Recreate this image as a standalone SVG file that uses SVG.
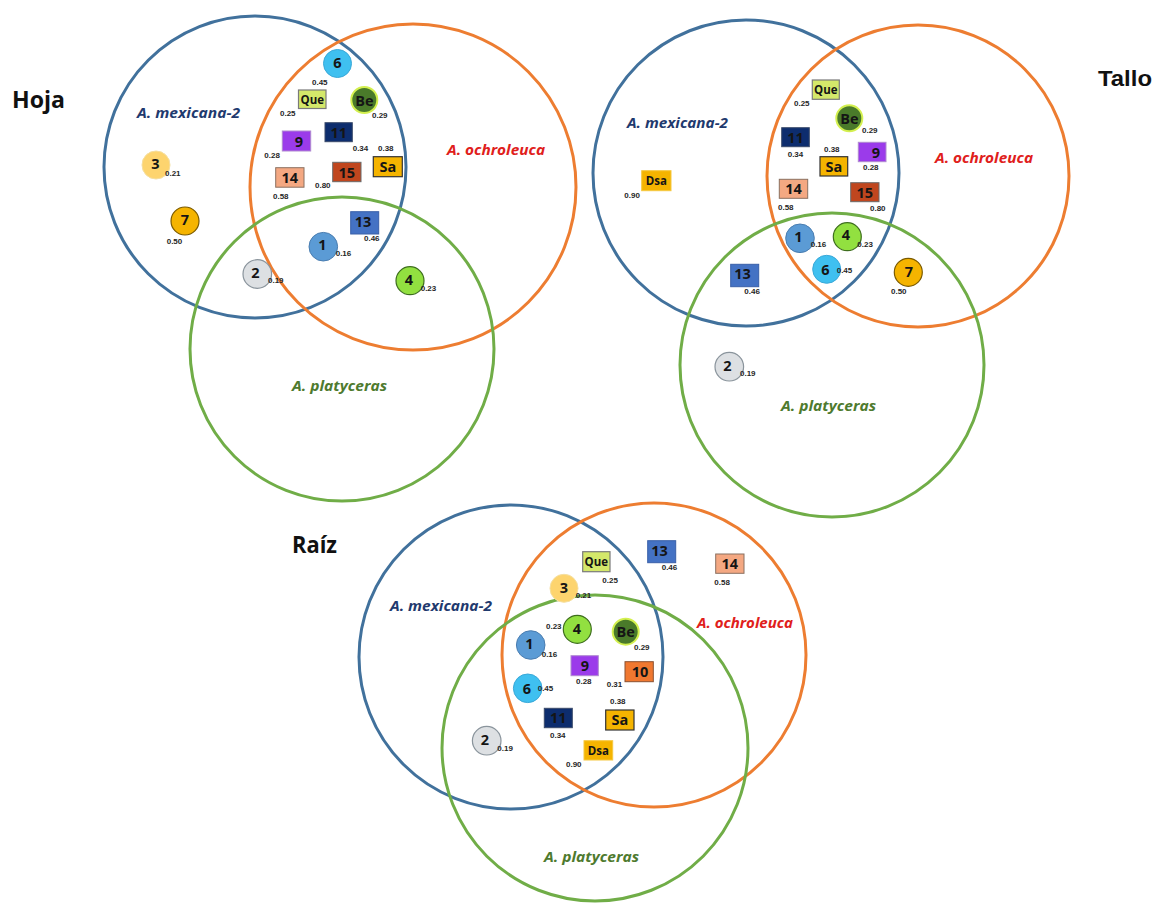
<svg xmlns="http://www.w3.org/2000/svg" width="1156" height="903" viewBox="0 0 1156 903">
<style>
.bg{fill:#fff}
.vm{fill:none;stroke:#41719C;stroke-width:3}
.vo{fill:none;stroke:#ED7D31;stroke-width:3}
.vg{fill:none;stroke:#70AD47;stroke-width:3}
.title{font-family:"Open Sans","Liberation Sans",sans-serif;font-weight:bold;font-size:24px;fill:#111}
.title2{font-family:"Liberation Sans",Arial,sans-serif;font-weight:bold;font-size:22px;fill:#111}
.sp{font-family:"Open Sans","Liberation Sans",sans-serif;font-weight:bold;font-style:italic;font-size:14.5px}
.sm{fill:#1F3A6E}
.so{fill:#E0201B}
.sg{fill:#4E7A2E}
.n{font-family:"Open Sans","Liberation Sans",sans-serif;font-weight:bold;font-size:14.5px;fill:#151515;text-anchor:middle;dominant-baseline:central}
.ns{font-size:11.5px}
.v{font-family:"Liberation Sans",Arial,sans-serif;font-weight:bold;font-size:8px;fill:#262626}
.c1{fill:#5B9BD5;stroke:#4A7DB0;stroke-width:1}
.c2{fill:#DDE0E3;stroke:#8A949C;stroke-width:1.2}
.c3{fill:#FDD46E;stroke:#F5DFA0;stroke-width:1}
.c4{fill:#92E040;stroke:#3E6E1E;stroke-width:1.2}
.c6{fill:#3FC0F0;stroke:#3AA8D8;stroke-width:1}
.c7{fill:#F5B400;stroke:#7A5A00;stroke-width:1.2}
.cbe{fill:#4A7A2A;stroke:#D4F050;stroke-width:2}
.rque{fill:#D4E86A;stroke:#7A7A7A;stroke-width:1.2}
.r11{fill:#0D2D6E;stroke:#3A4A6A;stroke-width:1}
.r9{fill:#9B3BEA;stroke:#B08AD0;stroke-width:1}
.rsa{fill:#F5B400;stroke:#333;stroke-width:1.2}
.r14{fill:#F4A882;stroke:#8A7060;stroke-width:1}
.r15{fill:#C0461E;stroke:#6A6A6A;stroke-width:1}
.r13{fill:#4472C4;stroke:#3A60A8;stroke-width:1}
.r10{fill:#F07830;stroke:#8A5030;stroke-width:1}
.rdsa{fill:#F5B400;stroke:#F5C840;stroke-width:1}
</style>
<rect class="bg" x="0" y="0" width="1156" height="903"/>

<g id="venn-circles">
<circle class="vm" cx="255" cy="167" r="151"/>
<circle class="vo" cx="413" cy="187" r="163"/>
<circle class="vg" cx="342" cy="349" r="152"/>
<circle class="vm" cx="746" cy="173" r="153"/>
<circle class="vo" cx="918" cy="176" r="151"/>
<circle class="vg" cx="832" cy="365" r="152"/>
<circle class="vm" cx="511" cy="657" r="152"/>
<circle class="vo" cx="654" cy="655" r="152"/>
<circle class="vg" cx="595" cy="748" r="153"/>
</g>

<g id="titles">
<text class="title" x="12" y="108" textLength="53" lengthAdjust="spacingAndGlyphs">Hoja</text>
<text class="title2" x="1098" y="86" textLength="54" lengthAdjust="spacingAndGlyphs">Tallo</text>
<text class="title" x="292" y="553" textLength="45" lengthAdjust="spacingAndGlyphs">Raíz</text>
</g>

<g id="set-labels">
<text class="sp sm" x="137" y="118" textLength="103" lengthAdjust="spacingAndGlyphs">A. mexicana-2</text>
<text class="sp so" x="447" y="155" textLength="98" lengthAdjust="spacingAndGlyphs">A. ochroleuca</text>
<text class="sp sg" x="292" y="391" textLength="95" lengthAdjust="spacingAndGlyphs">A. platyceras</text>
<text class="sp sm" x="627" y="128" textLength="101" lengthAdjust="spacingAndGlyphs">A. mexicana-2</text>
<text class="sp so" x="935" y="163" textLength="98" lengthAdjust="spacingAndGlyphs">A. ochroleuca</text>
<text class="sp sg" x="781" y="411" textLength="95" lengthAdjust="spacingAndGlyphs">A. platyceras</text>
<text class="sp sm" x="390" y="611" textLength="102" lengthAdjust="spacingAndGlyphs">A. mexicana-2</text>
<text class="sp so" x="697" y="628" textLength="96" lengthAdjust="spacingAndGlyphs">A. ochroleuca</text>
<text class="sp sg" x="544" y="862" textLength="95" lengthAdjust="spacingAndGlyphs">A. platyceras</text>
</g>

<g id="hoja">
<g id="h6"><circle class="c6" cx="337.5" cy="63.5" r="14"/><text class="n" x="337.5" y="62.5">6</text><text class="v" x="312" y="85">0.45</text></g>
<g id="hque"><rect class="rque" x="298.5" y="90" width="27.5" height="18.5"/><text class="n ns" x="312.3" y="99">Que</text><text class="v" x="280" y="116">0.25</text></g>
<g id="hbe"><circle class="cbe" cx="364.3" cy="100" r="13"/><text class="n" x="364.3" y="100">Be</text><text class="v" x="372" y="118">0.29</text></g>
<g id="h11"><rect class="r11" x="325" y="122.7" width="27.3" height="19"/><text class="n" x="338.7" y="132">11</text><text class="v" x="352.7" y="151">0.34</text></g>
<g id="h9"><rect class="r9" x="282.3" y="131" width="28.4" height="20"/><text class="n" x="299" y="141">9</text><text class="v" x="264.3" y="158">0.28</text></g>
<g id="hsa"><rect class="rsa" x="373.3" y="156.7" width="29" height="20"/><text class="n" x="387.8" y="166.5">Sa</text><text class="v" x="378" y="151">0.38</text></g>
<g id="h14"><rect class="r14" x="275.7" y="167.7" width="28.3" height="19.5"/><text class="n" x="289.8" y="177.3">14</text><text class="v" x="273" y="199">0.58</text></g>
<g id="h15"><rect class="r15" x="332.7" y="162.3" width="28.3" height="19.4"/><text class="n" x="346.8" y="172">15</text><text class="v" x="315" y="188">0.80</text></g>
<g id="h3"><circle class="c3" cx="156" cy="165" r="14"/><text class="n" x="155.5" y="163.5">3</text><text class="v" x="165" y="176">0.21</text></g>
<g id="h7"><circle class="c7" cx="185" cy="221" r="14"/><text class="n" x="185" y="219.5">7</text><text class="v" x="166.7" y="244">0.50</text></g>
<g id="h13"><rect class="r13" x="350.7" y="211.7" width="28" height="22.3"/><text class="n" x="363" y="221">13</text><text class="v" x="364" y="241">0.46</text></g>
<g id="h1"><circle class="c1" cx="323.3" cy="246.7" r="14.3"/><text class="n" x="322.5" y="244.5">1</text><text class="v" x="335.7" y="256">0.16</text></g>
<g id="h2"><circle class="c2" cx="257.3" cy="274" r="14.3"/><text class="n" x="255.5" y="272">2</text><text class="v" x="268" y="283">0.19</text></g>
<g id="h4"><circle class="c4" cx="410" cy="280.7" r="14"/><text class="n" x="409" y="279">4</text><text class="v" x="420.7" y="291">0.23</text></g>
</g>

<g id="tallo">
<g id="tque"><rect class="rque" x="812.3" y="80" width="27" height="19.3"/><text class="n ns" x="825.8" y="89.5">Que</text><text class="v" x="794" y="106">0.25</text></g>
<g id="tbe"><circle class="cbe" cx="849.3" cy="118.3" r="13"/><text class="n" x="849.3" y="118.3">Be</text><text class="v" x="862" y="133">0.29</text></g>
<g id="t11"><rect class="r11" x="781.7" y="127.7" width="27.6" height="19"/><text class="n" x="795.5" y="137">11</text><text class="v" x="787.7" y="157">0.34</text></g>
<g id="t9"><rect class="r9" x="858.3" y="142.3" width="27.7" height="19.4"/><text class="n" x="876" y="152">9</text><text class="v" x="863" y="170">0.28</text></g>
<g id="tsa"><rect class="rsa" x="820" y="156.7" width="27.7" height="19.3"/><text class="n" x="833.8" y="166.3">Sa</text><text class="v" x="824" y="152">0.38</text></g>
<g id="t14"><rect class="r14" x="779.3" y="179.3" width="28.4" height="19"/><text class="n" x="793.5" y="188.8">14</text><text class="v" x="778" y="210">0.58</text></g>
<g id="t15"><rect class="r15" x="850.7" y="182.7" width="28.3" height="19"/><text class="n" x="864.8" y="192.5">15</text><text class="v" x="870" y="211">0.80</text></g>
<g id="tdsa"><rect class="rdsa" x="641.7" y="170.7" width="29.3" height="20"/><text class="n ns" x="656.3" y="180.5">Dsa</text><text class="v" x="624.3" y="198">0.90</text></g>
<g id="t1"><circle class="c1" cx="800" cy="238.3" r="14.3"/><text class="n" x="798.5" y="236">1</text><text class="v" x="810.7" y="247">0.16</text></g>
<g id="t4"><circle class="c4" cx="847.3" cy="236.7" r="14"/><text class="n" x="846" y="234.5">4</text><text class="v" x="857.3" y="247">0.23</text></g>
<g id="t6"><circle class="c6" cx="826.7" cy="269.3" r="14"/><text class="n" x="825.5" y="269">6</text><text class="v" x="836.7" y="273">0.45</text></g>
<g id="t13"><rect class="r13" x="730.7" y="264.3" width="28" height="22.4"/><text class="n" x="742.5" y="273.5">13</text><text class="v" x="744.3" y="294">0.46</text></g>
<g id="t7"><circle class="c7" cx="908.3" cy="272.3" r="14"/><text class="n" x="909" y="271">7</text><text class="v" x="891" y="294">0.50</text></g>
<g id="t2"><circle class="c2" cx="729.3" cy="366.7" r="14.3"/><text class="n" x="727.5" y="365">2</text><text class="v" x="740" y="376">0.19</text></g>
</g>

<g id="raiz">
<g id="rque"><rect class="rque" x="582.7" y="551.7" width="27.3" height="20"/><text class="n ns" x="596.3" y="561.5">Que</text><text class="v" x="602.3" y="583">0.25</text></g>
<g id="r13"><rect class="r13" x="647.7" y="540.7" width="28" height="22"/><text class="n" x="659.5" y="550">13</text><text class="v" x="661.7" y="570">0.46</text></g>
<g id="r14"><rect class="r14" x="715.7" y="554" width="28.3" height="19.3"/><text class="n" x="729.8" y="563.5">14</text><text class="v" x="714.3" y="585">0.58</text></g>
<g id="r3"><circle class="c3" cx="564" cy="588.3" r="14"/><text class="n" x="564" y="587">3</text><text class="v" x="575.7" y="598">0.21</text></g>
<g id="r4"><circle class="c4" cx="577.3" cy="629.3" r="14"/><text class="n" x="577" y="628">4</text><text class="v" x="546" y="629">0.23</text></g>
<g id="rbe"><circle class="cbe" cx="625.7" cy="631.7" r="13"/><text class="n" x="625.7" y="631.7">Be</text><text class="v" x="634" y="650">0.29</text></g>
<g id="r1"><circle class="c1" cx="530.7" cy="645" r="14.3"/><text class="n" x="529.5" y="643">1</text><text class="v" x="541.7" y="657">0.16</text></g>
<g id="r9"><rect class="r9" x="571" y="655.7" width="27.3" height="20"/><text class="n" x="585" y="665.5">9</text><text class="v" x="576" y="684">0.28</text></g>
<g id="r10"><rect class="r10" x="625" y="661.7" width="28.3" height="20"/><text class="n" x="640" y="671">10</text><text class="v" x="606.7" y="687">0.31</text></g>
<g id="r6"><circle class="c6" cx="527.7" cy="688.3" r="14.3"/><text class="n" x="527" y="688">6</text><text class="v" x="537.7" y="691">0.45</text></g>
<g id="rsa"><rect class="rsa" x="605.7" y="710" width="28.3" height="20"/><text class="n" x="619.8" y="719.5">Sa</text><text class="v" x="610" y="704">0.38</text></g>
<g id="r11"><rect class="r11" x="544.3" y="708.3" width="28" height="19.4"/><text class="n" x="558.3" y="717.5">11</text><text class="v" x="550" y="738">0.34</text></g>
<g id="r2"><circle class="c2" cx="486.7" cy="740.7" r="14.3"/><text class="n" x="485" y="739">2</text><text class="v" x="497.3" y="751">0.19</text></g>
<g id="rdsa"><rect class="rdsa" x="584" y="740.7" width="28.7" height="19.3"/><text class="n ns" x="598.3" y="750.5">Dsa</text><text class="v" x="566" y="767">0.90</text></g>
</g>
</svg>
